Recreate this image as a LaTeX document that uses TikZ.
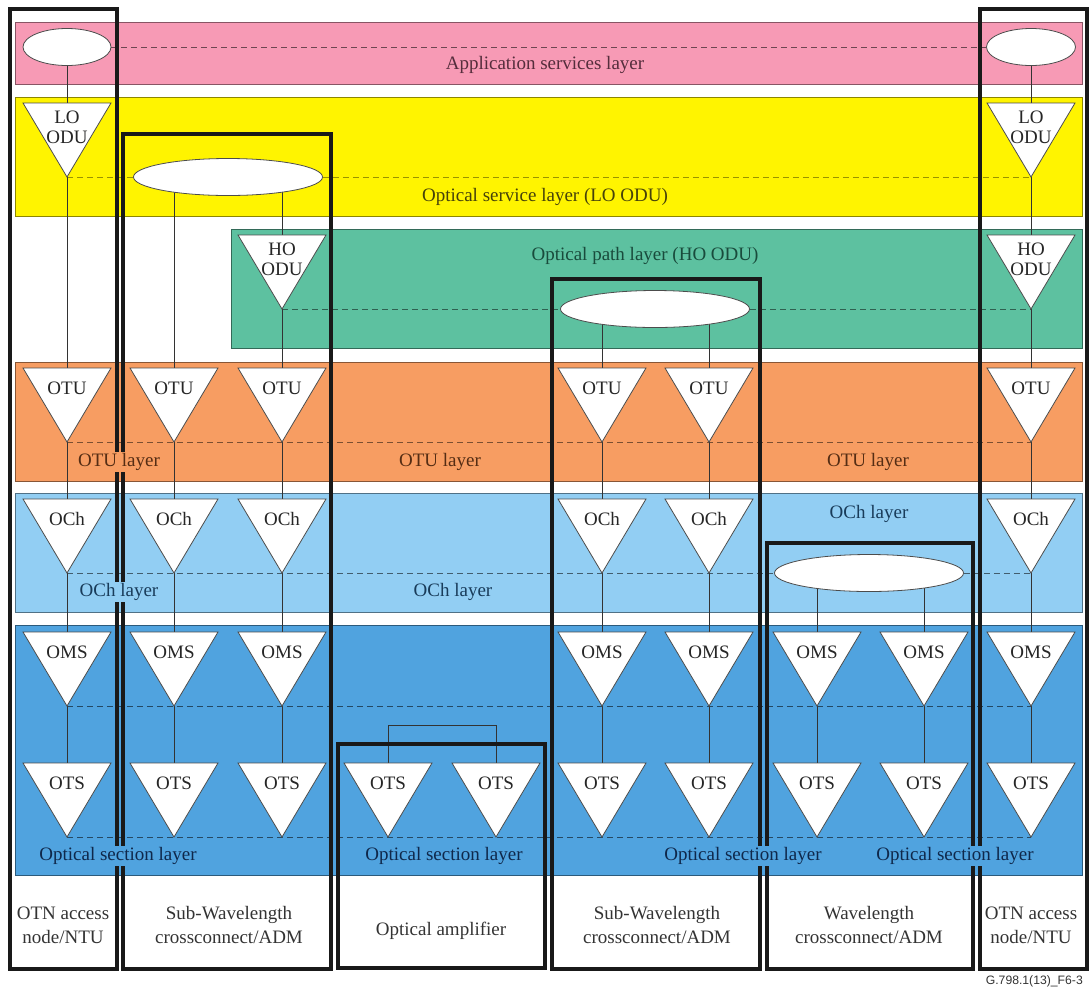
\documentclass[tikz,border=0pt]{standalone}
\usepackage{fontspec}
\setmainfont{Liberation Serif}
\setsansfont{Liberation Sans}
\usetikzlibrary{shapes.geometric}
\definecolor{cPink}{RGB}{247,154,181}
\definecolor{cYel}{RGB}{255,244,0}
\definecolor{cGrn}{RGB}{93,193,160}
\definecolor{cOra}{RGB}{247,157,98}
\definecolor{cLbl}{RGB}{146,206,243}
\definecolor{cBlu}{RGB}{80,163,223}
\definecolor{tPink}{RGB}{85,45,60}
\definecolor{tYel}{RGB}{70,66,10}
\definecolor{tGrn}{RGB}{25,75,60}
\definecolor{tOra}{RGB}{85,45,20}
\definecolor{tLbl}{RGB}{25,60,90}
\definecolor{tBlu}{RGB}{15,40,75}
\pgfdeclarelayer{bg}
\pgfdeclarelayer{conn}
\pgfdeclarelayer{fg}
\pgfsetlayers{bg,conn,main,fg}
\tikzset{
  layerbox/.style={line width=0.9pt},
  tribox/.style={draw=none,minimum width=88pt,minimum height=74pt,inner sep=0pt,outer sep=0pt},
  triline/.style={fill=white,draw=black!70,line width=0.8pt,line join=miter},
  tritext/.style={inner sep=0pt,align=center,text=black!85,font=\fontsize{19}{20}\selectfont},
  ell/.style={ellipse,fill=white,draw=black!70,line width=0.8pt,minimum width=189pt,minimum height=37pt,inner sep=0pt},
  link/.style={draw=black!80,line width=0.8pt},
  dsh/.style={dashed,dash pattern=on 6pt off 4pt,line width=0.8pt},
  bigbox/.style={draw=black!90,line width=3.4pt},
  lay/.style={inner sep=1.5pt,font=\fontsize{19}{22}\selectfont},
  bot/.style={align=center,text=black!80,font=\fontsize{19}{24}\selectfont},
}
\newcommand\TriNode[5]{%
  \node[tribox] (#1) at (#2,#3+37) {};
  \filldraw[triline] (#1.north west) -- (#1.north east) -- (#1.south) -- cycle;
  \node[tritext] (#1-t) at ([yshift=-#5pt]#1.north) {#4};
}
\begin{document}
\begin{tikzpicture}[x=1pt,y=-1pt]
\useasboundingbox (0,0) rectangle (1091,989);
% ---- layer backgrounds
\begin{pgfonlayer}{bg}
\filldraw[layerbox,fill=cPink,draw=cPink!55!black] (15,22) rectangle (1082,84);
\filldraw[layerbox,fill=cYel,draw=cYel!55!black] (15,97) rectangle (1082,216);
\filldraw[layerbox,fill=cGrn,draw=cGrn!55!black] (231,229) rectangle (1082,348);
\filldraw[layerbox,fill=cOra,draw=cOra!55!black] (15,362) rectangle (1082,481);
\filldraw[layerbox,fill=cLbl,draw=cLbl!55!black] (15,493) rectangle (1082,612);
\filldraw[layerbox,fill=cBlu,draw=cBlu!55!black] (15,625) rectangle (1082,875);
\end{pgfonlayer}
% ---- ellipses
\node[ell,minimum width=88pt] (eA1) at (67,47) {};
\node[ell,minimum width=89pt] (eA8) at (1031,47) {};
\node[ell] (eY) at (228,177) {};
\node[ell] (eG) at (655,309) {};
\node[ell] (eC) at (869,573) {};
% ---- triangles
\TriNode{lo1}{67}{103}{LO\\ODU}{24}
\TriNode{lo8}{1031}{103}{LO\\ODU}{24}
\TriNode{ho3}{282}{235}{HO\\ODU}{24}
\TriNode{ho8}{1031}{235}{HO\\ODU}{24}
\foreach \n/\x in {1/67,2/174,3/282,4/602,5/709,8/1031}{
  \TriNode{otu\n}{\x}{368}{OTU}{20}
  \TriNode{och\n}{\x}{499}{OCh}{20}
}
\foreach \n/\x in {1/67,2/174,3/282,4/602,5/709,6/817,7/924,8/1031}{
  \TriNode{oms\n}{\x}{632}{OMS}{20}
}
\foreach \n/\x in {1/67,2/174,3/282,a/388,b/496,4/602,5/709,6/817,7/924,8/1031}{
  \TriNode{ots\n}{\x}{763}{OTS}{20}
}
% ---- connectors and dashed layer lines
\begin{pgfonlayer}{conn}
\draw[dsh,draw=cPink!45!black] (eA1) -- (eA8);
\draw[dsh,draw=cYel!60!black] (lo1.south) -- (eY);
\draw[dsh,draw=cYel!60!black] (eY) -- (lo8.south);
\draw[dsh,draw=cGrn!50!black] (ho3.south) -- (eG);
\draw[dsh,draw=cGrn!50!black] (eG) -- (ho8.south);
\draw[dsh,draw=cOra!50!black] (otu1.south) -- (otu8.south);
\draw[dsh,draw=cLbl!45!black] (och1.south) -- (eC);
\draw[dsh,draw=cLbl!45!black] (eC) -- (och8.south);
\draw[dsh,draw=cBlu!45!black] (oms1.south) -- (oms8.south);
\draw[dsh,draw=cBlu!45!black] (ots1.south) -- (ots8.south);
% verticals
\draw[link] (eA1) -- (lo1.north);
\draw[link] (eA8) -- (lo8.north);
\draw[link] (lo1.south) -- (otu1.north);
\draw[link] (lo8.south) -- (ho8.north);
\draw[link] (ho8.south) -- (otu8.north);
\draw[link] (eY.center -| otu2.north) -- (otu2.north);
\draw[link] (eY.center -| ho3.north) -- (ho3.north);
\draw[link] (ho3.south) -- (otu3.north);
\draw[link] (eG.center -| otu4.north) -- (otu4.north);
\draw[link] (eG.center -| otu5.north) -- (otu5.north);
\draw[link] (eC.center -| oms6.north) -- (oms6.north);
\draw[link] (eC.center -| oms7.north) -- (oms7.north);
\foreach \n in {1,2,3,4,5,8}{
  \draw[link] (otu\n.south) -- (och\n.north);
  \draw[link] (och\n.south) -- (oms\n.north);
}
\foreach \n in {1,2,3,4,5,6,7,8}{
  \draw[link] (oms\n.south) -- (ots\n.north);
}
\coordinate (amp) at (442,725);
\draw[link] (otsa.north) |- (amp) -| (otsb.north);
\end{pgfonlayer}
% ---- equipment boxes and labels
\begin{pgfonlayer}{fg}
\draw[bigbox] (10,9) rectangle (117,969);
\draw[bigbox] (123,134) rectangle (331,969);
\draw[bigbox] (338,744) rectangle (545,968);
\draw[bigbox] (552,279) rectangle (760,969);
\draw[bigbox] (767,543) rectangle (973,969);
\draw[bigbox] (980,9) rectangle (1087,969);
% layer labels
\node[lay,text=tPink] (lA) at (545,65) {Application services layer};
\node[lay,text=tYel] (lY) at (545,197) {Optical service layer (LO ODU)};
\node[lay,text=tGrn] (lG) at (645,256) {Optical path layer (HO ODU)};
\node[lay,fill=cOra,text=tOra] (lO1) at (119,462) {OTU layer};
\node[lay,fill=cOra,text=tOra] (lO2) at (440,462) {OTU layer};
\node[lay,fill=cOra,text=tOra] (lO3) at (868,462) {OTU layer};
\node[lay,fill=cLbl,text=tLbl] (lC1) at (119,592) {OCh layer};
\node[lay,fill=cLbl,text=tLbl] (lC2) at (453,592) {OCh layer};
\node[lay,fill=cLbl,text=tLbl] (lC3) at (869,514) {OCh layer};
\node[lay,fill=cBlu,text=tBlu] (lS1) at (118,856) {Optical section layer};
\node[lay,fill=cBlu,text=tBlu] (lS2) at (444,856) {Optical section layer};
\node[lay,fill=cBlu,text=tBlu] (lS3) at (743,856) {Optical section layer};
\node[lay,fill=cBlu,text=tBlu] (lS4) at (955,856) {Optical section layer};
% bottom labels
\node[bot] (b1) at (63,925) {OTN access\\node/NTU};
\node[bot] (b2) at (229,925) {Sub-Wavelength\\crossconnect/ADM};
\node[bot] (b3) at (441,931) {Optical amplifier};
\node[bot] (b4) at (657,925) {Sub-Wavelength\\crossconnect/ADM};
\node[bot] (b5) at (869,925) {Wavelength\\crossconnect/ADM};
\node[bot] (b6) at (1031,925) {OTN access\\node/NTU};
\node[anchor=east,inner sep=0pt,text=black!80,font=\sffamily\fontsize{12.2}{14}\selectfont] (cap) at (1083,981) {G.798.1(13)\_F6-3};
\end{pgfonlayer}
\end{tikzpicture}
\end{document}
